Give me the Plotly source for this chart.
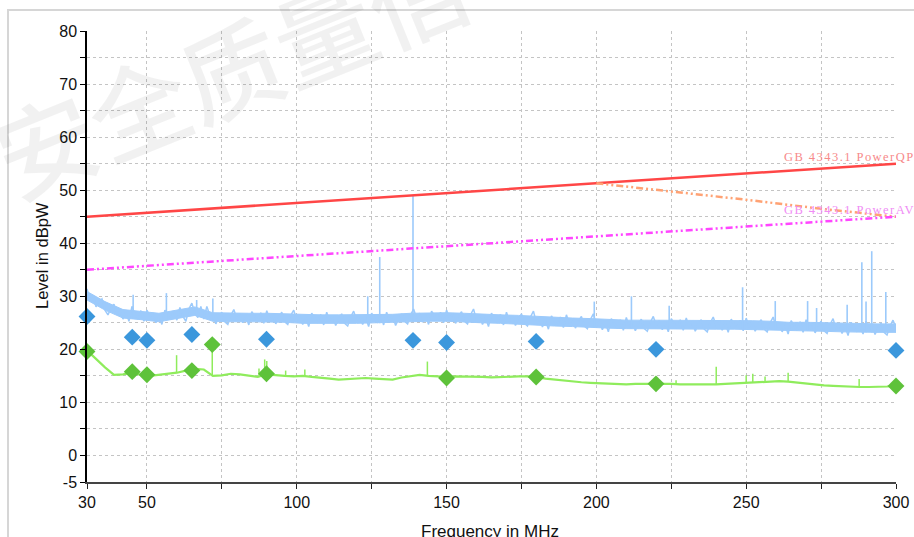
import numpy as np
import plotly.graph_objects as go

# ---------------- data ----------------
x_tick_vals = [30, 50, 75, 100, 125, 150, 175, 200, 225, 250, 275, 300]
x_tick_text = ["30", "50", "", "100", "", "150", "", "200", "", "250", "", "300"]
y_tick_vals = [-5, 0, 5, 10, 15, 20, 25, 30, 35, 40, 45, 50, 55, 60, 65, 70, 75, 80]
y_tick_text = ["-5", "0", "", "10", "", "20", "", "30", "", "40", "", "50", "", "60", "", "70", "", "80"]

# peak-detector scan, 1 MHz steps from 30 to 300 MHz (dBpW)
pk_freq = list(range(30, 301))
pk_scan = [
    31.4, 29.4, 30.2, 28.0, 29.0, 29.5, 27.4, 26.5, 27.8, 28.5,
    26.5, 27.4, 25.7, 27.0, 25.3, 28.1, 26.6, 25.7, 27.3, 25.3,
    27.4, 26.2, 26.7, 25.0, 26.3, 24.7, 27.4, 26.5, 25.6, 27.2,
    25.5, 27.9, 26.2, 25.3, 27.6, 28.7, 26.8, 26.0, 28.1, 25.7,
    28.1, 26.4, 26.6, 24.8, 26.3, 27.0, 25.2, 24.7, 26.4, 27.5,
    25.8, 26.7, 25.0, 26.3, 24.6, 27.1, 26.2, 25.3, 26.9, 24.9,
    27.3, 25.6, 26.6, 24.8, 26.1, 27.0, 25.2, 24.7, 26.4, 27.4,
    25.5, 26.4, 24.7, 26.0, 24.3, 26.8, 25.9, 25.0, 26.6, 24.6,
    27.0, 25.3, 26.3, 24.5, 25.8, 26.7, 24.9, 24.4, 26.1, 27.2,
    25.5, 26.4, 24.7, 26.0, 24.3, 26.8, 25.9, 25.0, 26.6, 24.6,
    27.0, 25.3, 26.3, 24.5, 25.8, 26.7, 25.3, 24.8, 26.5, 27.6,
    25.9, 26.8, 25.1, 26.4, 24.7, 27.2, 26.3, 25.4, 27.0, 25.0,
    27.4, 25.7, 26.7, 24.9, 26.2, 27.1, 25.3, 24.8, 26.5, 27.6,
    25.5, 26.4, 24.7, 26.0, 24.3, 26.8, 25.9, 25.0, 26.6, 24.6,
    27.0, 25.3, 26.3, 24.5, 25.8, 26.7, 24.9, 24.4, 26.1, 27.2,
    25.0, 25.9, 24.2, 25.5, 23.8, 26.3, 25.4, 24.5, 26.1, 24.1,
    26.5, 24.8, 25.8, 24.0, 25.3, 26.2, 24.4, 23.9, 25.6, 26.7,
    24.5, 25.4, 23.7, 25.0, 23.3, 25.8, 24.9, 24.0, 25.6, 23.6,
    26.0, 24.3, 25.3, 23.5, 24.8, 25.7, 23.9, 23.4, 25.1, 26.2,
    24.5, 25.4, 23.7, 25.0, 23.3, 25.8, 24.9, 24.0, 25.6, 23.6,
    25.9, 24.2, 25.2, 23.4, 24.7, 25.6, 23.8, 23.3, 25.0, 26.1,
    24.4, 25.3, 23.6, 24.9, 23.2, 25.7, 24.8, 23.9, 25.5, 23.5,
    25.9, 24.2, 25.2, 23.4, 24.7, 25.6, 23.8, 23.3, 25.0, 26.1,
    24.1, 25.0, 23.3, 24.6, 22.9, 25.4, 24.5, 23.6, 25.2, 23.2,
    25.6, 23.9, 24.9, 23.1, 24.4, 25.3, 23.5, 23.0, 24.7, 25.8,
    23.8, 24.7, 23.0, 24.3, 22.6, 25.1, 24.2, 23.3, 24.9, 22.9,
    25.3, 23.6, 24.6, 22.8, 24.1, 25.0, 23.2, 22.7, 24.4, 25.5,
    24.1]

# dense core of the peak-scan noise band, 6 MHz steps (dBpW)
core_freq = list(range(30, 301, 6))
core_upper = [30.9, 29.0, 27.5, 27.2, 26.8, 27.4, 28.0, 26.9, 26.8, 26.8,
              26.8, 26.7, 26.5, 26.5, 26.5, 26.5, 26.5, 26.6, 26.8, 26.9,
              26.9, 26.8, 26.6, 26.5, 26.4, 26.2, 26.0, 25.9, 25.8, 25.6,
              25.5, 25.5, 25.5, 25.4, 25.4, 25.4, 25.4, 25.4, 25.3, 25.1,
              25.1, 25.0, 24.9, 24.8, 24.8, 24.8]
core_lower = [29.3, 27.4, 25.9, 25.6, 25.2, 25.8, 26.4, 25.3, 25.2, 25.2,
              25.2, 25.1, 24.9, 24.9, 24.9, 24.9, 24.9, 25.0, 25.2, 25.3,
              25.3, 25.2, 25.0, 24.9, 24.8, 24.6, 24.4, 24.3, 24.2, 24.0,
              23.9, 23.9, 23.9, 23.8, 23.8, 23.8, 23.8, 23.8, 23.7, 23.5,
              23.5, 23.4, 23.3, 23.2, 23.2, 23.2]

# narrow peaks in the peak scan
pk_spike_freq = [45.4, 56.5, 66.6, 72.0, 123.7, 127.7, 138.8, 199.3, 211.7,
                 224.3, 248.8, 259.7, 270.5, 273.5, 283.7, 288.6, 290.0,
                 291.9, 296.6]
pk_spike_level = [30.3, 30.6, 29.3, 29.6, 30.0, 37.4, 49.0, 29.0, 30.0,
                  28.2, 31.7, 29.1, 29.1, 27.8, 28.4, 36.4, 29.0, 38.5, 30.8]

# average-detector scan, 3 MHz steps (dBpW)
av_freq = list(range(30, 301, 3))
av_scan = [19.8, 18.2, 16.6, 15.2, 15.3, 15.6, 15.2, 15.0, 15.2, 15.3,
           15.6, 16.0, 16.3, 16.2, 15.0, 15.1, 15.4, 15.3, 15.1, 14.8,
           15.3, 15.1, 15.0, 14.9, 15.0, 14.8, 14.7, 14.5, 14.3, 14.4,
           14.6, 14.6, 14.5, 14.4, 14.3, 14.7, 15.0, 15.2, 15.0, 14.9,
           14.8, 14.9, 14.9, 14.8, 14.8, 14.7, 14.8, 14.9, 14.9, 14.9,
           14.8, 14.5, 14.3, 14.1, 13.9, 13.8, 13.7, 13.6, 13.5, 13.5,
           13.4, 13.5, 13.5, 13.5, 13.6, 13.5, 13.4, 13.4, 13.3, 13.4,
           13.4, 13.5, 13.6, 13.7, 13.8, 13.9, 14.0, 14.0, 13.9, 13.7,
           13.5, 13.4, 13.2, 13.1, 13.0, 12.9, 12.9, 12.9, 12.9, 13.0,
           13.1]
av_spike_freq = [59.9, 71.8, 87.4, 89.3, 90.0, 96.3, 102.7, 143.6, 226.6,
                 240.0, 250.0, 252.2, 256.3, 264.0, 287.7]
av_spike_level = [18.9, 20.5, 16.4, 18.1, 17.8, 16.0, 16.2, 17.7, 14.2,
                  16.7, 15.1, 15.4, 14.9, 15.6, 14.4]

# final measurements
qp_meas_freq = [30.0, 45.1, 50.0, 65.0, 89.9, 138.8, 150.0, 179.9, 219.9, 300.0]
qp_meas_level = [26.2, 22.3, 21.7, 22.8, 21.9, 21.7, 21.3, 21.5, 20.0, 19.8]
av_meas_freq = [30.0, 45.1, 50.0, 65.0, 71.8, 89.9, 150.0, 179.9, 219.9, 300.0]
av_meas_level = [19.6, 15.8, 15.2, 16.0, 20.9, 15.4, 14.6, 14.8, 13.5, 13.1]

# limit lines
qp_limit_freq = [30, 300]
qp_limit_level = [45, 55]
av_limit_freq = [30, 300]
av_limit_level = [35, 45]
qp_red_freq = [200, 225, 250, 275, 300]
qp_red_level = [51.3, 49.8, 48.2, 46.5, 45.0]

# ---------------- figure ----------------
W, H = 914, 537
L, R, T, B = 87, 18, 31, 55
pw, ph = W - L - R, H - T - B


def px(xpage):
    return (xpage - L) / pw


def py(ypage):
    return (T + ph - ypage) / ph


BLUE_BAND = "#9ccafb"
GREEN_LINE = "#8fec5c"

fig = go.Figure()

# peak scan: dense core + noisy trace + narrow peaks
fig.add_trace(go.Scatter(
    x=core_freq + core_freq[::-1],
    y=core_upper + core_lower[::-1],
    fill="toself", fillcolor=BLUE_BAND,
    line=dict(color=BLUE_BAND, width=1),
    mode="lines", hoverinfo="skip", showlegend=False))
fig.add_trace(go.Scatter(x=pk_freq, y=pk_scan, mode="lines",
                         line=dict(color=BLUE_BAND, width=1.5),
                         hoverinfo="skip", showlegend=False))
sx, sy = [], []
for f, lv in zip(pk_spike_freq, pk_spike_level):
    sx += [f, f, None]
    sy += [float(np.interp(f, core_freq, core_lower)), lv, None]
fig.add_trace(go.Scatter(x=sx, y=sy, mode="lines",
                         line=dict(color=BLUE_BAND, width=1.6),
                         hoverinfo="skip", showlegend=False))

# average scan
fig.add_trace(go.Scatter(x=av_freq, y=av_scan, mode="lines",
                         line=dict(color=GREEN_LINE, width=2.2),
                         showlegend=False))
gx, gy = [], []
for f, lv in zip(av_spike_freq, av_spike_level):
    gx += [f, f, None]
    gy += [float(np.interp(f, av_freq, av_scan)), lv, None]
fig.add_trace(go.Scatter(x=gx, y=gy, mode="lines",
                         line=dict(color=GREEN_LINE, width=1.5),
                         hoverinfo="skip", showlegend=False))

# limits
fig.add_trace(go.Scatter(x=qp_limit_freq, y=qp_limit_level, mode="lines",
                         line=dict(color="#ff4646", width=2.5), showlegend=False))
fig.add_trace(go.Scatter(x=qp_red_freq, y=qp_red_level, mode="lines",
                         line=dict(color="#ffa274", width=2.5,
                                   dash="7px,3px,2px,3px,2px,3px"),
                         showlegend=False))
fig.add_trace(go.Scatter(x=av_limit_freq, y=av_limit_level, mode="lines",
                         line=dict(color="#ff46ff", width=2.5,
                                   dash="7px,3px,2px,3px,2px,3px"),
                         showlegend=False))

# final measurement markers
fig.add_trace(go.Scatter(x=qp_meas_freq, y=qp_meas_level, mode="markers",
                         marker=dict(symbol="diamond", size=13, color="#3b97dc"),
                         cliponaxis=False, showlegend=False))
fig.add_trace(go.Scatter(x=av_meas_freq, y=av_meas_level, mode="markers",
                         marker=dict(symbol="diamond", size=13, color="#5ec23a"),
                         cliponaxis=False, showlegend=False))

font = "Liberation Sans, Arial, sans-serif"
label_font = "Liberation Serif, Times New Roman, serif"

fig.update_layout(
    width=W, height=H,
    margin=dict(l=L, r=R, t=T, b=B, autoexpand=False),
    paper_bgcolor="white", plot_bgcolor="white",
    font=dict(family=font, size=16, color="#111111"),
    xaxis=dict(range=[30, 300], tickvals=x_tick_vals, ticktext=x_tick_text,
               showgrid=True, gridcolor="#c4c4c4", griddash="dot", gridwidth=1,
               zeroline=False, showline=True, linecolor="#444444", linewidth=1.5,
               ticks="outside", ticklen=5, tickcolor="#222222", automargin=False,
               tickfont=dict(size=16, family=font)),
    yaxis=dict(range=[-5, 80], tickvals=y_tick_vals, ticktext=y_tick_text,
               showgrid=True, gridcolor="#c4c4c4", griddash="dot", gridwidth=1,
               zeroline=False, showline=True, linecolor="#000000", linewidth=1.5,
               ticks="outside", ticklen=5, tickcolor="#000000", automargin=False,
               tickfont=dict(size=16, family=font)),
    shapes=[dict(type="rect", xref="paper", yref="paper",
                 x0=px(8), x1=px(940), y0=py(560), y1=py(10),
                 line=dict(color="#d6d6d6", width=2), layer="below")],
    annotations=[
        dict(text="安全质量信", xref="paper", yref="paper",
             x=px(230), y=py(66), xanchor="center", yanchor="middle",
             showarrow=False, textangle=-22,
             font=dict(family="Noto Sans CJK SC", size=100, weight=500,
                       color="rgba(0,0,0,0.055)")),
        dict(text='<span style="letter-spacing:1.45px">GB 4343.1 PowerQP</span>',
             xref="paper", yref="paper",
             x=px(782), y=py(157), xanchor="left", yanchor="middle",
             showarrow=False,
             font=dict(family=label_font, size=12.5, color="#f78a8a")),
        dict(text='<span style="letter-spacing:1.45px">GB 4343.1 PowerAV</span>',
             xref="paper", yref="paper",
             x=px(782), y=py(210), xanchor="left", yanchor="middle",
             showarrow=False,
             font=dict(family=label_font, size=12.5, color="#f08cf5")),
        dict(text="Frequency in MHz", xref="paper", yref="paper",
             x=px(490), y=py(531), xanchor="center", yanchor="middle",
             showarrow=False, font=dict(family=font, size=17, color="#111111")),
        dict(text="Level in dBpW", xref="paper", yref="paper",
             x=px(42), y=py(256), xanchor="center", yanchor="middle",
             showarrow=False, textangle=-90,
             font=dict(family=font, size=16.5, color="#111111")),
    ],
)

fig.write_html(
    "out.html",
    config={"displayModeBar": False},
    post_script="document.body.style.margin='0px';"
                "document.body.style.overflow='hidden';",
)
